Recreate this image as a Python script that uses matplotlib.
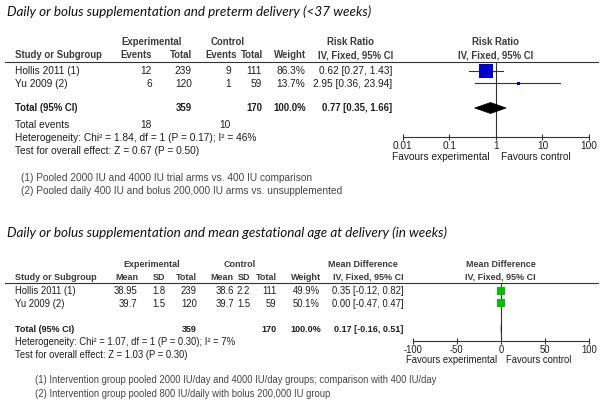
import matplotlib
matplotlib.use("Agg")
import matplotlib.pyplot as plt
from matplotlib.patches import Polygon
from matplotlib.ticker import NullLocator

# ---------------- data: panel 1 (risk ratio) ----------------
rr_studies = ["Hollis 2011 (1)", "Yu 2009 (2)"]
rr_exp_events = [12, 6]
rr_exp_total = [239, 120]
rr_ctl_events = [9, 1]
rr_ctl_total = [111, 59]
rr_weight = [86.3, 13.7]
rr_est = [0.62, 2.95]
rr_lo = [0.27, 0.36]
rr_hi = [1.43, 23.94]
rr_pooled = [0.77, 0.35, 1.66]          # estimate, lower, upper
rr_het = [1.84, 1, 0.17, 46]            # Chi2, df, P, I2
rr_overall = [0.67, 0.50]               # Z, P
rr_ticks = [0.01, 0.1, 1, 10, 100]
rr_ticklabels = ["0.01", "0.1", "1", "10", "100"]
rr_notes = ["(1) Pooled 2000 IU and 4000 IU trial arms vs. 400 IU comparison",
            "(2) Pooled daily 400 IU and bolus 200,000 IU arms vs. unsupplemented"]

# ---------------- data: panel 2 (mean difference) ----------------
md_studies = ["Hollis 2011 (1)", "Yu 2009 (2)"]
md_exp_mean = [38.95, 39.7]
md_exp_sd = [1.8, 1.5]
md_exp_total = [239, 120]
md_ctl_mean = [38.6, 39.7]
md_ctl_sd = [2.2, 1.5]
md_ctl_total = [111, 59]
md_weight = [49.9, 50.1]
md_est = [0.35, 0.00]
md_lo = [-0.12, -0.47]
md_hi = [0.82, 0.47]
md_pooled = [0.17, -0.16, 0.51]
md_het = [1.07, 1, 0.30, 7]
md_overall = [1.03, 0.30]
md_ticks = [-100, -50, 0, 50, 100]
md_ticklabels = ["-100", "-50", "0", "50", "100"]
md_notes = ["(1) Intervention group pooled 2000 IU/day and 4000 IU/day groups; comparison with 400 IU/day",
            "(2) Intervention group pooled 800 IU/daily with bolus 200,000 IU group"]

titles = ["Daily or bolus supplementation and preterm delivery (<37 weeks)",
          "Daily or bolus supplementation and mean gestational age at delivery (in weeks)"]

# ---------------- figure ----------------
W, H = 604, 403
fig = plt.figure(figsize=(W / 100, H / 100), dpi=100)
fig.patch.set_facecolor("white")
bg = fig.add_axes([0, 0, 1, 1])
bg.set_xlim(0, W)
bg.set_ylim(H, 0)
bg.axis("off")

FONT = "Liberation Sans"
TXT = "#1e1e1e"
HDR = "#3c3c3c"
NOTE = "#474747"
LINE = "#333333"


def make_put(size, bsize):
    def put(x, yc, s, ha="left", bold=False, color=TXT):
        fs = bsize if bold else size
        bg.text(x, yc + fs * 100 / 72 * 0.716 / 2, s, ha=ha, va="baseline",
                fontsize=fs, family=FONT,
                fontweight="bold" if bold else "normal", color=color)
    return put


def f2(v):
    return f"{v:.2f}"


# titles (fit top title to its width in the reference)
t1 = bg.text(6.7, 15.5, titles[0], ha="left", va="baseline", family="Lato",
             style="italic", fontsize=9, color="#111111")
fig.canvas.draw()
w1 = t1.get_window_extent().width
tfs = 9 * 364 / w1
t1.set_fontsize(tfs)
bg.text(6.7, 237, titles[1], ha="left", va="baseline", family="Lato",
        style="italic", fontsize=tfs, color="#111111")


def square_ms(w):
    return max(3.0, 16.0 * w / 100.0) * 0.72


def forest_axes(x0, x1, ytop, yaxis, fs):
    ax = fig.add_axes([x0 / W, 1 - yaxis / H, (x1 - x0) / W, (yaxis - ytop) / H])
    ax.set_ylim(yaxis, ytop)
    ax.patch.set_alpha(0)
    for s in ["top", "right", "left"]:
        ax.spines[s].set_visible(False)
    ax.spines["bottom"].set_color(LINE)
    ax.spines["bottom"].set_linewidth(0.8)
    ax.set_yticks([])
    ax.tick_params(axis="x", direction="inout", length=4.6, width=0.8,
                   color=LINE, labelsize=fs, labelcolor=TXT, pad=0.3)
    return ax


# ================= panel 1 =================
FS1, FB1 = 7.3, 6.9
put = make_put(FS1, FB1)
r1 = {"h1": 42, "h2": 55, "rule": 61.7, "rows": [70.5, 83], "tot": 108,
      "events": 124, "het": 137, "test": 150, "notes": [177, 190], "axis": 137}

put(151.7, r1["h1"], "Experimental", ha="center", bold=True, color=HDR)
put(228, r1["h1"], "Control", ha="center", bold=True, color=HDR)
put(350.8, r1["h1"], "Risk Ratio", ha="center", bold=True, color=HDR)
put(495.8, r1["h1"], "Risk Ratio", ha="center", bold=True, color=HDR)
put(15, r1["h2"], "Study or Subgroup", bold=True, color=HDR)
put(151.7, r1["h2"], "Events", ha="right", bold=True, color=HDR)
put(191.7, r1["h2"], "Total", ha="right", bold=True, color=HDR)
put(236.7, r1["h2"], "Events", ha="right", bold=True, color=HDR)
put(262.7, r1["h2"], "Total", ha="right", bold=True, color=HDR)
put(306, r1["h2"], "Weight", ha="right", bold=True, color=HDR)
put(393, r1["h2"], "IV, Fixed, 95% CI", ha="right", bold=True, color=HDR)
put(495.7, r1["h2"], "IV, Fixed, 95% CI", ha="center", bold=True, color=HDR)
bg.plot([5, 598], [r1["rule"]] * 2, color=LINE, lw=0.8)

for i, y in enumerate(r1["rows"]):
    put(15, y, rr_studies[i])
    put(151.7, y, str(rr_exp_events[i]), ha="right")
    put(191.7, y, str(rr_exp_total[i]), ha="right")
    put(230.7, y, str(rr_ctl_events[i]), ha="right")
    put(261.7, y, str(rr_ctl_total[i]), ha="right")
    put(305, y, f"{rr_weight[i]:.1f}%", ha="right")
    put(392.5, y, f"{f2(rr_est[i])} [{f2(rr_lo[i])}, {f2(rr_hi[i])}]", ha="right")

put(15, r1["tot"], "Total (95% CI)", bold=True)
put(191.7, r1["tot"], str(sum(rr_exp_total)), ha="right", bold=True)
put(262.5, r1["tot"], str(sum(rr_ctl_total)), ha="right", bold=True)
put(306, r1["tot"], f"{sum(rr_weight):.1f}%", ha="right", bold=True)
put(392.5, r1["tot"], f"{f2(rr_pooled[0])} [{f2(rr_pooled[1])}, {f2(rr_pooled[2])}]",
    ha="right", bold=True)
put(15, r1["events"], "Total events")
put(151.7, r1["events"], str(sum(rr_exp_events)), ha="right")
put(230.7, r1["events"], str(sum(rr_ctl_events)), ha="right")
put(15, r1["het"], f"Heterogeneity: Chi² = {rr_het[0]:.2f}, df = {rr_het[1]} "
                   f"(P = {rr_het[2]:.2f}); I² = {rr_het[3]}%")
put(15, r1["test"], f"Test for overall effect: Z = {rr_overall[0]:.2f} (P = {rr_overall[1]:.2f})")
for y, s in zip(r1["notes"], rr_notes):
    put(20.7, y, s, color=NOTE)

ax1 = forest_axes(402.7, 589, r1["rule"], r1["axis"], FS1)
ax1.set_xscale("log")
ax1.set_xlim(0.01, 100)
ax1.xaxis.set_minor_locator(NullLocator())
ax1.set_xticks(rr_ticks)
ax1.set_xticklabels(rr_ticklabels, family=FONT, fontsize=FS1, color=TXT)
ax1.axvline(1, color=LINE, lw=0.8)
for i, y in enumerate(r1["rows"]):
    ax1.plot([rr_lo[i], rr_hi[i]], [y, y], color=LINE, lw=0.8, clip_on=False)
    ax1.plot(rr_est[i], y, marker="s", ms=square_ms(rr_weight[i]), color="#0000cc",
             mec="#0000cc", mew=0, clip_on=False, zorder=3)
yd = r1["tot"]
ax1.add_patch(Polygon([[rr_pooled[1], yd], [rr_pooled[0], yd - 5.5],
                       [rr_pooled[2], yd], [rr_pooled[0], yd + 5.5]],
                      closed=True, facecolor="black", edgecolor="black", lw=0.5,
                      zorder=3))
put(490, 156, "Favours experimental", ha="right")
put(501, 156, "Favours control", ha="left")

# ================= panel 2 =================
FS2, FB2 = 6.85, 6.5
put = make_put(FS2, FB2)
r2 = {"h1": 263.5, "h2": 276.7, "rule": 282.5, "rows": [290.7, 303.3], "tot": 328.3,
      "het": 341.7, "test": 355, "notes": [379.3, 393.3], "axis": 341}

put(152, r2["h1"], "Experimental", ha="center", bold=True, color=HDR)
put(239.7, r2["h1"], "Control", ha="center", bold=True, color=HDR)
put(362.8, r2["h1"], "Mean Difference", ha="center", bold=True, color=HDR)
put(500.5, r2["h1"], "Mean Difference", ha="center", bold=True, color=HDR)
put(15, r2["h2"], "Study or Subgroup", bold=True, color=HDR)
put(138.3, r2["h2"], "Mean", ha="right", bold=True, color=HDR)
put(165.7, r2["h2"], "SD", ha="right", bold=True, color=HDR)
put(196.7, r2["h2"], "Total", ha="right", bold=True, color=HDR)
put(233, r2["h2"], "Mean", ha="right", bold=True, color=HDR)
put(250, r2["h2"], "SD", ha="right", bold=True, color=HDR)
put(277.3, r2["h2"], "Total", ha="right", bold=True, color=HDR)
put(320.7, r2["h2"], "Weight", ha="right", bold=True, color=HDR)
put(404, r2["h2"], "IV, Fixed, 95% CI", ha="right", bold=True, color=HDR)
put(500.8, r2["h2"], "IV, Fixed, 95% CI", ha="center", bold=True, color=HDR)
bg.plot([5, 598], [r2["rule"]] * 2, color=LINE, lw=0.8)

for i, y in enumerate(r2["rows"]):
    put(15, y, md_studies[i])
    put(137.7, y, f"{md_exp_mean[i]:g}", ha="right")
    put(165.7, y, f"{md_exp_sd[i]:g}", ha="right")
    put(196.7, y, str(md_exp_total[i]), ha="right")
    put(234, y, f"{md_ctl_mean[i]:g}", ha="right")
    put(250, y, f"{md_ctl_sd[i]:g}", ha="right")
    put(276.7, y, str(md_ctl_total[i]), ha="right")
    put(320, y, f"{md_weight[i]:.1f}%", ha="right")
    put(403.3, y, f"{f2(md_est[i])} [{f2(md_lo[i])}, {f2(md_hi[i])}]", ha="right")

put(15, r2["tot"], "Total (95% CI)", bold=True)
put(196.7, r2["tot"], str(sum(md_exp_total)), ha="right", bold=True)
put(277, r2["tot"], str(sum(md_ctl_total)), ha="right", bold=True)
put(320.7, r2["tot"], f"{sum(md_weight):.1f}%", ha="right", bold=True)
put(403.5, r2["tot"], f"{f2(md_pooled[0])} [{f2(md_pooled[1])}, {f2(md_pooled[2])}]",
    ha="right", bold=True)
put(15, r2["het"], f"Heterogeneity: Chi² = {md_het[0]:.2f}, df = {md_het[1]} "
                   f"(P = {md_het[2]:.2f}); I² = {md_het[3]}%")
put(15, r2["test"], f"Test for overall effect: Z = {md_overall[0]:.2f} (P = {md_overall[1]:.2f})")
for y, s in zip(r2["notes"], md_notes):
    put(35, y, s, color=NOTE)

ax2 = forest_axes(412.7, 589, r2["rule"], r2["axis"], FS2)
ax2.set_xlim(-100, 100)
ax2.set_xticks(md_ticks)
ax2.set_xticklabels(md_ticklabels, family=FONT, fontsize=FS2, color=TXT)
ax2.axvline(0, color=LINE, lw=0.8)
for i, y in enumerate(r2["rows"]):
    ax2.plot([md_lo[i], md_hi[i]], [y, y], color=LINE, lw=0.8, clip_on=False)
    ax2.plot(md_est[i], y, marker="s", ms=square_ms(md_weight[i]), color="#00c000",
             mec="#00c000", mew=0, clip_on=False, zorder=3)
yd = r2["tot"]
ax2.add_patch(Polygon([[md_pooled[1], yd], [md_pooled[0], yd - 5.5],
                       [md_pooled[2], yd], [md_pooled[0], yd + 5.5]],
                      closed=True, facecolor="black", edgecolor="none", lw=0,
                      zorder=3))
put(497, 360, "Favours experimental", ha="right")
put(505.7, 360, "Favours control", ha="left")

fig.savefig("out.png", dpi=100, facecolor="white")
